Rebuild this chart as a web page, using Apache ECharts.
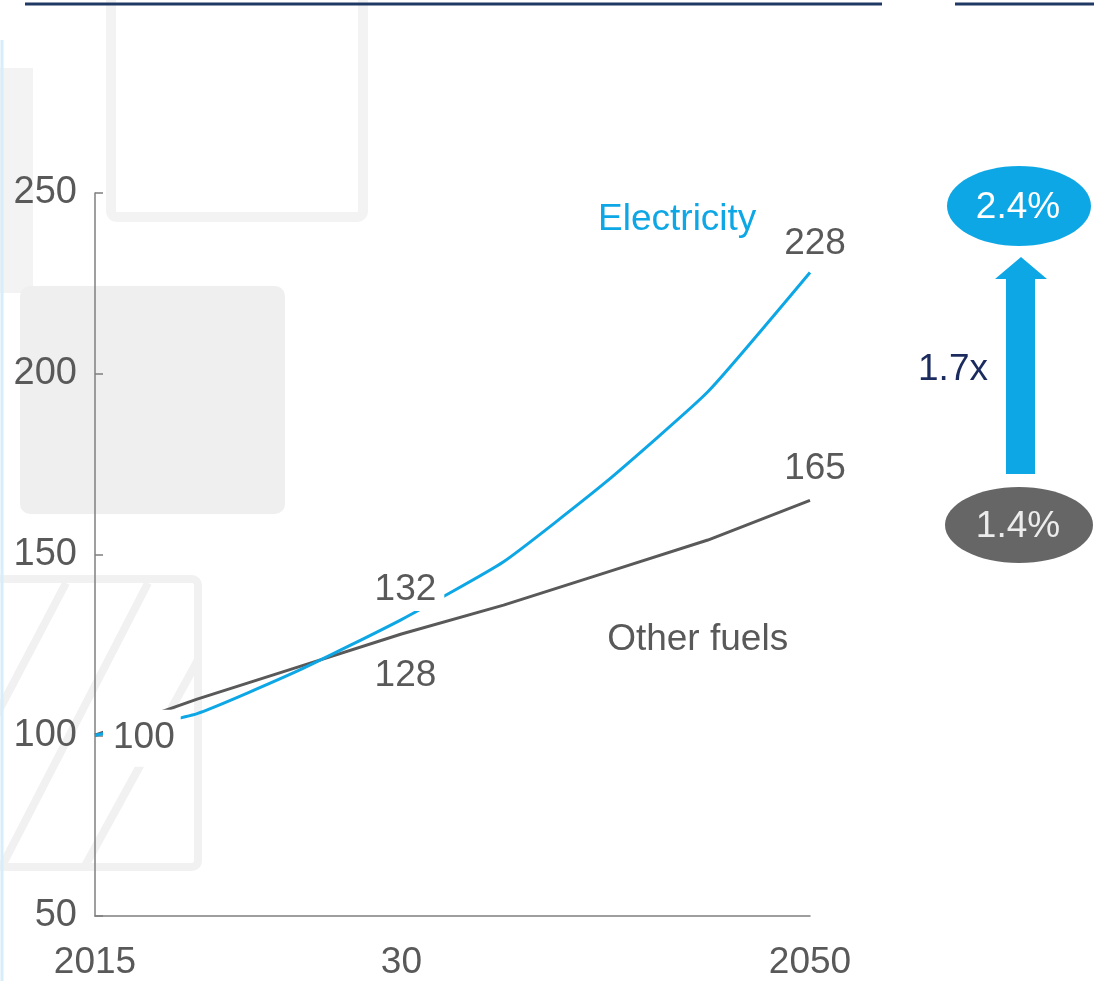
<!DOCTYPE html>
<html><head><meta charset="utf-8">
<script src="https://cdn.jsdelivr.net/npm/echarts@6/dist/echarts.min.js"></script>
<style>html,body{margin:0;padding:0;background:#fff}#c{width:1094px;height:981px}</style>
</head><body><div id="c"></div>
<script>
const years = [2015, 2020, 2025, 2030, 2035, 2040, 2045, 2050];
const electricity = [100, 106, 118, 132, 148, 170, 195, 228];
const otherFuels = [100, 110, 119, 128, 136, 145, 154, 165];
const xTickLabels = {2015: '2015', 2030: '30', 2050: '2050'};
const yTicks = [50, 100, 150, 200, 250];
const seriesNames = ['Electricity', 'Other fuels'];
const growthRates = ['2.4%', '1.4%'];
const multiplier = '1.7x';
// value labels: [seriesIndex, yearIndex]
const valueLabels = [[1, 0], [0, 3], [1, 3], [0, 7], [1, 7]];

const BLUE = '#0ea7e6', GRAY = '#595959', FONT = '"Liberation Sans", Arial, sans-serif';
const chart = echarts.init(document.getElementById('c'));
const seriesVals = [electricity, otherFuels];

const option = {
  animation: false,
  backgroundColor: '#fff',
  grid: {left: 95, right: 284, top: 193, bottom: 65, outerBoundsMode: 'none', containLabel: false},
  xAxis: {type: 'value', min: 2015, max: 2050, interval: 5,
    axisLine: {show: true, lineStyle: {color: '#7f7f7f', width: 1.5}},
    axisTick: {show: false}, splitLine: {show: false},
    axisLabel: {margin: 28, color: GRAY, fontSize: 37, fontFamily: FONT,
      formatter: v => xTickLabels[v] || ''}},
  yAxis: {type: 'value', min: yTicks[0], max: yTicks[yTicks.length - 1], interval: 50,
    axisLine: {show: true, lineStyle: {color: '#7f7f7f', width: 1.5}},
    axisTick: {show: true, inside: true, length: 8, lineStyle: {color: '#7f7f7f', width: 1.5}},
    splitLine: {show: false},
    axisLabel: {margin: 18, color: GRAY, fontSize: 38, fontFamily: FONT}},
  series: [
    {name: seriesNames[1], type: 'line', z: 3, showSymbol: false, symbol: 'none',
      lineStyle: {color: GRAY, width: 3}, data: years.map((y, i) => [y, otherFuels[i]])},
    {name: seriesNames[0], type: 'line', z: 4, showSymbol: false, symbol: 'none', smooth: 0.15,
      lineStyle: {color: BLUE, width: 3}, data: years.map((y, i) => [y, electricity[i]])}
  ]
};
chart.setOption(option);

const p = (x, y) => chart.convertToPixel({gridIndex: 0}, [x, y]);
// label placement relative to the data point (pixels)
const labelPlacement = [
  {dx: 8, dy: 3, align: 'left', padding: [16, 6, 4, 10]},
  {dx: 6, dy: -30, align: 'center', padding: [2, 8, 4, 4]},
  {dx: 4, dy: 42, align: 'center', padding: 0},
  {dx: 5, dy: -29, align: 'center', padding: 0},
  {dx: 5, dy: -31, align: 'center', padding: 0}
];
const valueTexts = valueLabels.map(([s, i], k) => {
  const pt = p(years[i], seriesVals[s][i]);
  const pl = labelPlacement[k];
  return {type: 'text', z: 50, silent: true, x: pt[0] + pl.dx, y: pt[1] + pl.dy,
    style: {text: String(seriesVals[s][i]), fill: GRAY, font: '37px ' + FONT,
      align: pl.align, verticalAlign: 'middle',
      backgroundColor: pl.padding ? '#fff' : 'transparent', padding: pl.padding}};
});

const eLab = p(2043.5, 242.5), oLab = p(2044.5, 126.5);
const bg = '#f1f1f1';
chart.setOption({graphic: [
  // faded background decoration
  {type: 'rect', z: -10, silent: true, shape: {x: 111, y: -20, width: 252, height: 237, r: 6}, style: {fill: 'none', stroke: '#f3f3f3', lineWidth: 10}},
  {type: 'rect', z: -10, silent: true, shape: {x: 0, y: 68, width: 33, height: 225}, style: {fill: '#f3f3f3'}},
  {type: 'rect', z: -10, silent: true, shape: {x: 20, y: 286, width: 265, height: 228, r: 10}, style: {fill: '#efefef'}},
  {type: 'rect', z: -10, silent: true, shape: {x: -10, y: 579, width: 208, height: 288, r: 6}, style: {fill: 'none', stroke: bg, lineWidth: 8}},
  {type: 'line', z: -10, silent: true, shape: {x1: 66, y1: 583, x2: -5, y2: 718}, style: {stroke: bg, lineWidth: 8}},
  {type: 'line', z: -10, silent: true, shape: {x1: 148, y1: 583, x2: 2, y2: 866}, style: {stroke: bg, lineWidth: 8}},
  {type: 'line', z: -10, silent: true, shape: {x1: 198, y1: 660, x2: 85, y2: 866}, style: {stroke: bg, lineWidth: 8}},
  {type: 'line', z: -10, silent: true, shape: {x1: 2, y1: 40, x2: 2, y2: 981}, style: {stroke: '#d6eefa', lineWidth: 3}},
  // top rules
  {type: 'line', silent: true, shape: {x1: 25, y1: 4, x2: 882, y2: 4}, style: {stroke: '#1f3864', lineWidth: 3}},
  {type: 'line', silent: true, shape: {x1: 955, y1: 4, x2: 1094, y2: 4}, style: {stroke: '#1f3864', lineWidth: 3}},
  // series names
  {type: 'text', z: 20, silent: true, x: eLab[0], y: eLab[1], style: {text: seriesNames[0], fill: BLUE, font: '37px ' + FONT, align: 'center', verticalAlign: 'middle'}},
  {type: 'text', z: 20, silent: true, x: oLab[0], y: oLab[1], style: {text: seriesNames[1], fill: GRAY, font: '37px ' + FONT, align: 'center', verticalAlign: 'middle'}},
  // right panel
  {type: 'ellipse', silent: true, shape: {cx: 1019, cy: 206, rx: 72, ry: 40}, style: {fill: BLUE}},
  {type: 'text', silent: true, x: 1018, y: 208, style: {text: growthRates[0], fill: '#fff', font: '37px ' + FONT, align: 'center', verticalAlign: 'middle'}},
  {type: 'ellipse', silent: true, shape: {cx: 1019, cy: 525, rx: 74, ry: 38}, style: {fill: '#666666'}},
  {type: 'text', silent: true, x: 1018, y: 527, style: {text: growthRates[1], fill: '#ececec', font: '37px ' + FONT, align: 'center', verticalAlign: 'middle'}},
  {type: 'polygon', silent: true, shape: {points: [[1006, 474], [1006, 279], [995, 279], [1021, 257], [1047, 279], [1035, 279], [1035, 474]]}, style: {fill: BLUE}},
  {type: 'text', silent: true, x: 953, y: 370, style: {text: multiplier, fill: '#1c2b5e', font: '37px ' + FONT, align: 'center', verticalAlign: 'middle'}}
].concat(valueTexts)});
</script></body></html>
